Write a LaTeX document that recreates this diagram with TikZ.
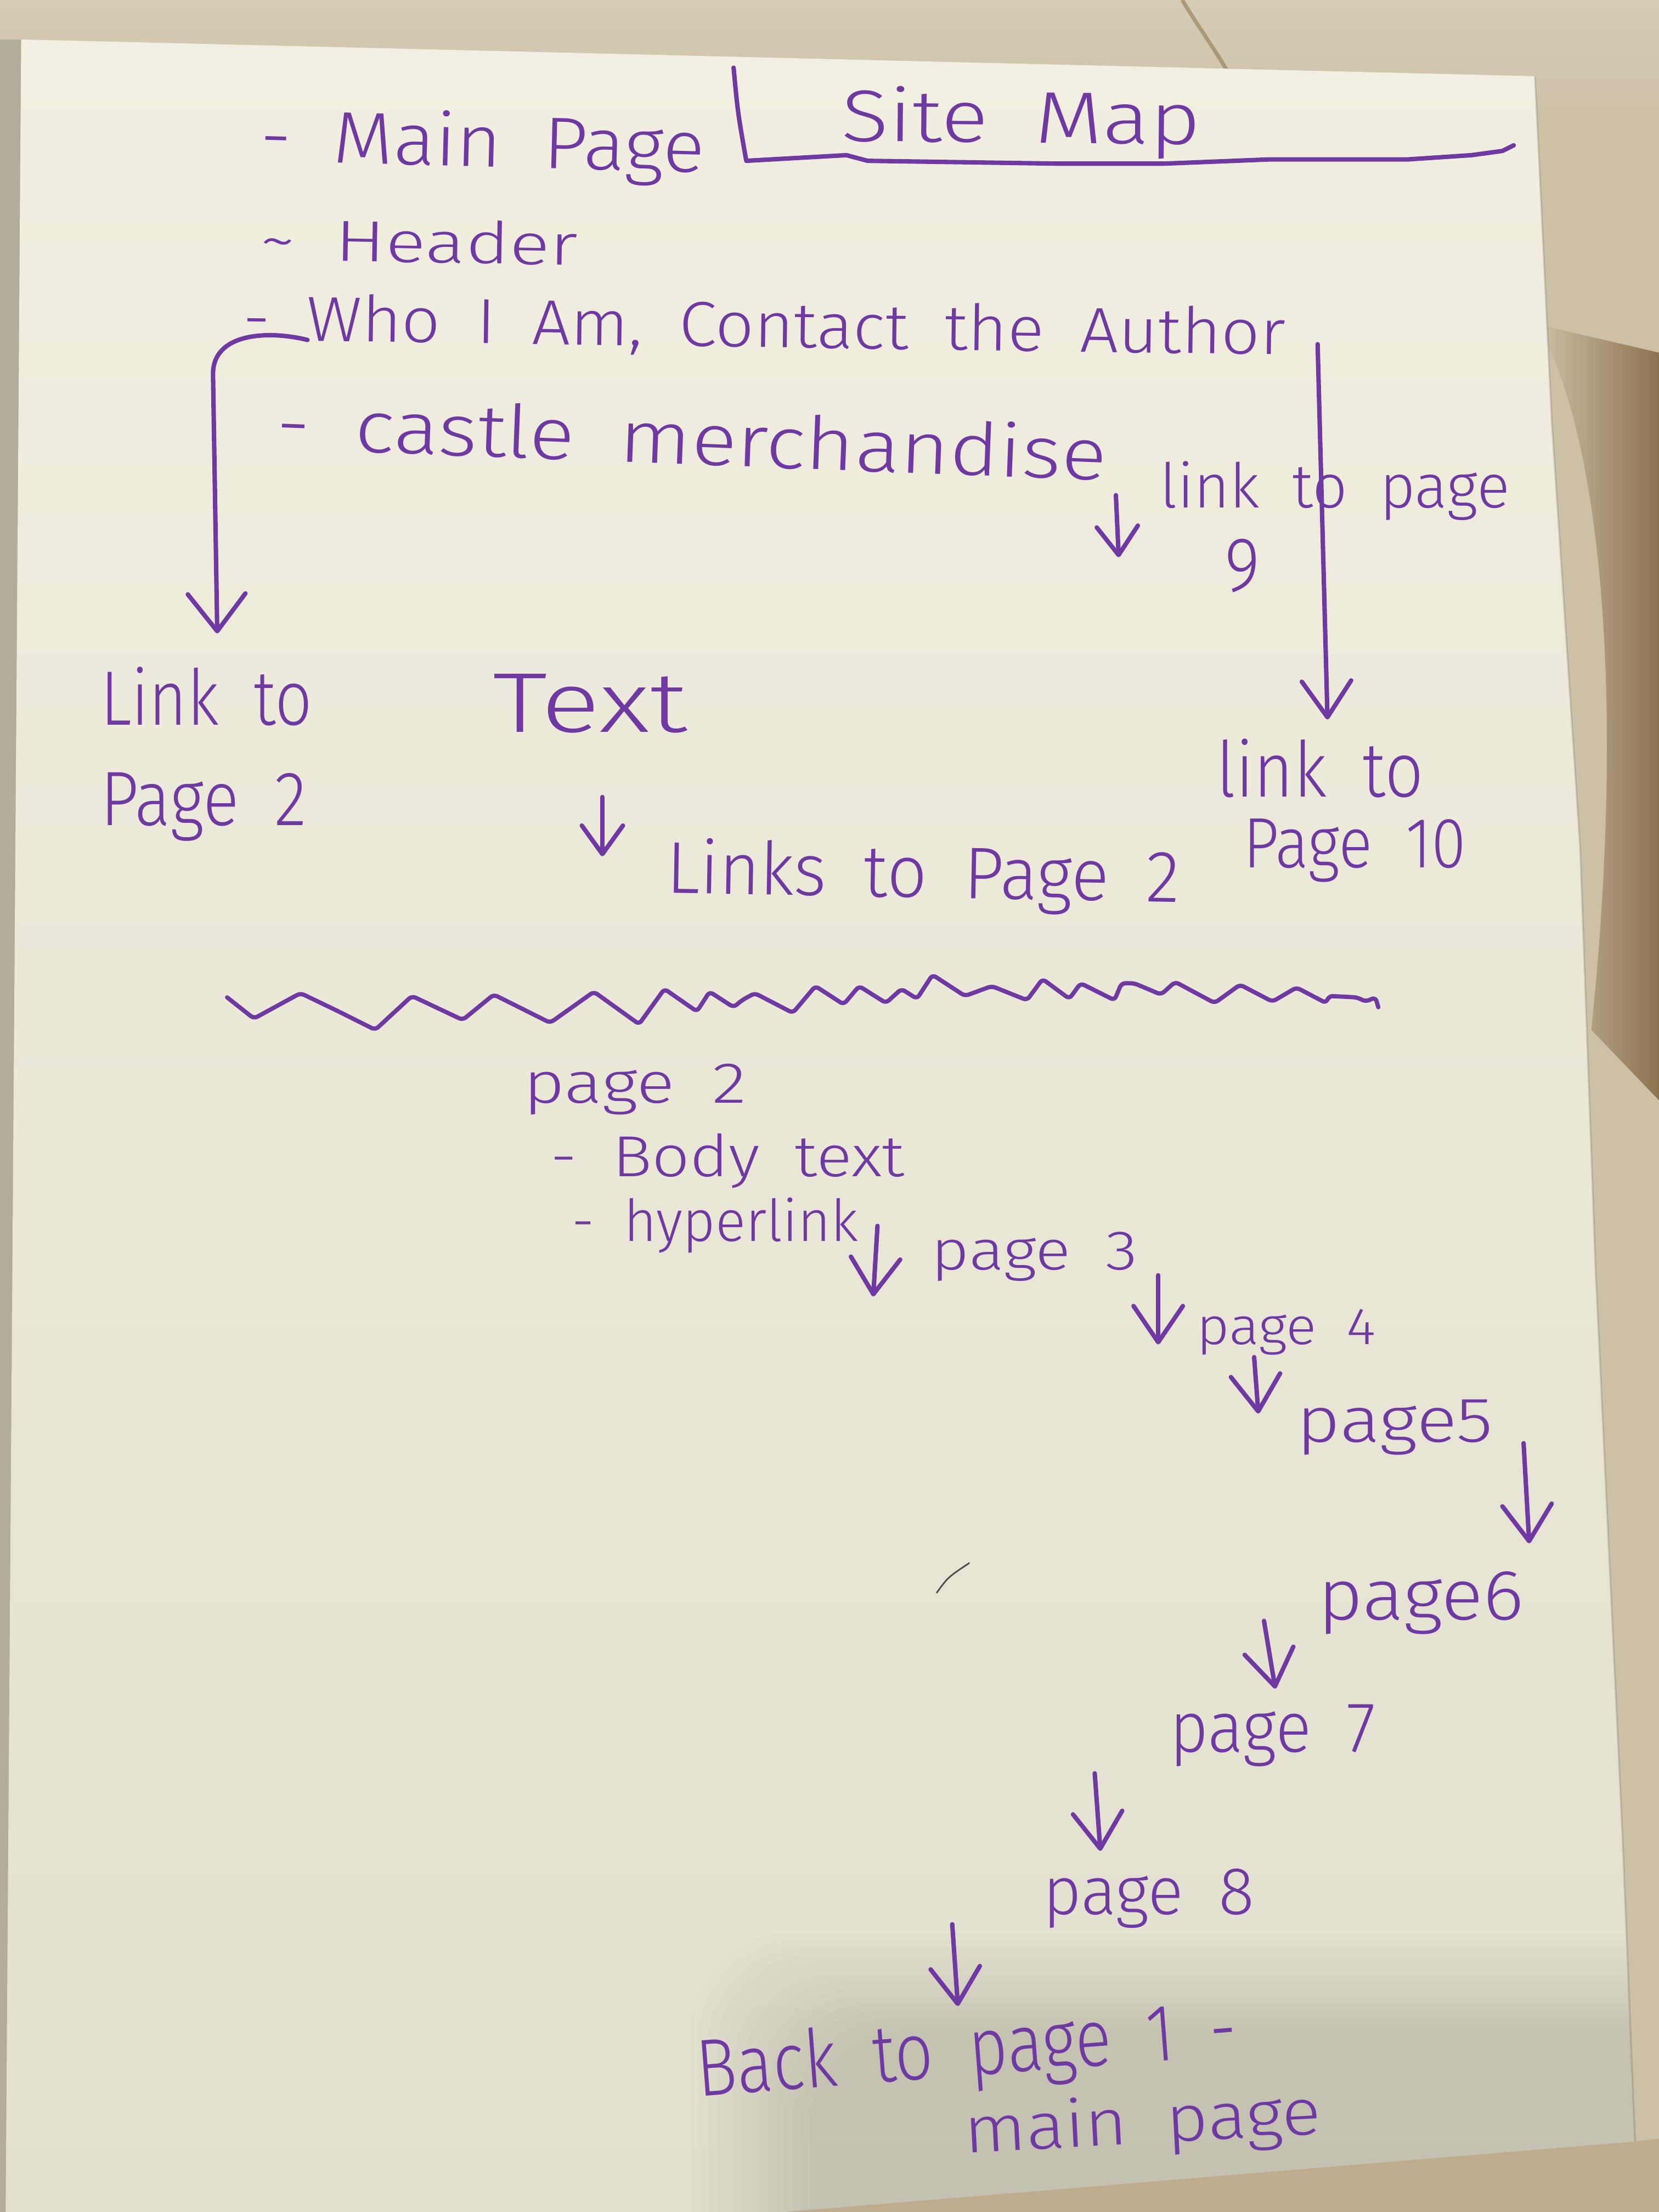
\documentclass[tikz,border=0pt]{standalone}
\usepackage{fontspec}
\setmainfont{Fira Sans Light}[WordSpace=1.9]
\usepackage{graphicx}
\usetikzlibrary{arrows.meta}

% one unit of the drawing grid as a TeX length
\newlength{\ux}\setlength{\ux}{0.025714cm}
% squeeze or stretch a line of writing to a given width, keeping its height
\newcommand{\fitw}[2]{\resizebox{#1}{\height}{#2}}
\newcommand{\fsz}[1]{\fontsize{#1}{#1}\selectfont}

\definecolor{ink}{RGB}{110,58,162}
\definecolor{fabric}{RGB}{204,192,166}
\definecolor{fabricL}{RGB}{214,204,182}
\definecolor{fabricD}{RGB}{140,115,80}
\definecolor{fabricB}{RGB}{190,172,140}
\definecolor{edgestrip}{RGB}{178,172,156}
\definecolor{paperT}{RGB}{242,239,226}
\definecolor{paperB}{RGB}{226,223,208}

\tikzset{
  hand/.style={text=ink, inner sep=0pt, anchor=base west},
  pen/.style={draw=ink, line width=2.3pt, line cap=round, line join=round},
  arr/.style={pen, -{Straight Barb[length=0.66cm, width=0.9cm, round]}},
  smallarr/.style={pen, -{Straight Barb[length=0.52cm, width=0.75cm, round]}},
}

% outline of the sheet of paper
\def\sheet{(15,28) -- (1088,54) -- (1100,300) -- (1120,600) -- (1131,900) -- (1150,1300) -- (1159,1518) -- (555,1568) -- (4,1568) -- cycle}

\begin{document}
\begin{tikzpicture}[x=0.025714cm, y=-0.025714cm]
\useasboundingbox (0,0) rectangle (1176,1568);

% ---- cloth behind the sheet ----
\fill[fabric] (0,0) rectangle (1176,1568);
\shade[top color=fabricL, bottom color=fabric] (0,0) rectangle (1176,90);
\shade[left color=fabric, right color=fabricD]
  (1090,230) .. controls (1140,320) and (1150,520) .. (1128,730) -- (1176,780) -- (1176,250) -- cycle;
\draw[fabricD, line width=2pt, opacity=0.55] (838,0) .. controls (850,20) and (862,36) .. (872,54);
\fill[edgestrip] (0,28) rectangle (18,1568);
\fill[fabricB] (555,1568) -- (1159,1518) -- (1176,1516) -- (1176,1568) -- cycle;

% ---- the sheet ----
\shade[top color=paperT, bottom color=paperB] \sheet;
\begin{scope}
  \clip \sheet;
  \foreach \i in {0,...,14}
    \fill[black!80!green, opacity=0.009, rounded corners=50pt] ({490+\i*6},{1370+\i*5}) rectangle (1260,1680);
\end{scope}
\draw[black, opacity=0.12, line width=1pt] (1088,54) -- (1100,300) -- (1120,600) -- (1131,900) -- (1150,1300) -- (1159,1518);

% ---- header block ----
\node[hand, font=\fsz{38}, rotate=-1.5] (mainpage) at (184,114) {\fitw{315\ux}{- Main Page}};
\node[hand, font=\fsz{38}, rotate=-0.5] (sitemap) at (596,100) {\fitw{255\ux}{Site Map}};
\coordinate (brtop) at (520,48);
\coordinate (brend) at (1073,103);
\draw[pen] (brtop) .. controls (523,80) .. (529,114)
  -- (600,110) -- (615,114) -- (750,116) -- (825,116) -- (900,113) -- (998,113) -- (1043,110) -- (1065,107) -- (brend);

\node[hand, font=\fsz{30}, rotate=-1] (header) at (184,184) {\fitw{225\ux}{\textasciitilde\ Header}};
\node[hand, font=\fsz{33}, rotate=-0.8] (who) at (172,241) {\fitw{739\ux}{- Who I Am, Contact the Author}};
\node[hand, font=\fsz{38}, rotate=-2.2] (castle) at (195,318) {\fitw{589\ux}{- castle merchandise}};

% ---- links from the main page ----
\node[hand, font=\fsz{32}] (link9) at (822,360) {\fitw{248\ux}{link to page}};
\node[hand, font=\fsz{40}] (nine) at (868,419) {\fitw{25\ux}{9}};
\node[hand, font=\fsz{40}] (linkA) at (71,514) {\fitw{150\ux}{Link to}};
\node[hand, font=\fsz{40}] (linkB) at (71,585) {\fitw{146\ux}{Page 2}};
\node[hand, font=\fsz{44}] (text) at (349,519) {\fitw{138\ux}{Text}};
\node[hand, font=\fsz{40}] (link10a) at (862,565) {\fitw{147\ux}{link to}};
\node[hand, font=\fsz{37}] (link10b) at (881,615) {\fitw{158\ux}{Page 10}};
\node[hand, font=\fsz{38}, rotate=-1] (links2) at (472,633) {\fitw{364\ux}{Links to Page 2}};

\coordinate (whoL) at (218,241);
\coordinate (toLink2) at (154,449);
\draw[arr, -{Straight Barb[length=0.68cm, width=1.05cm, round]}]
  (whoL) .. controls (190,234) and (151,236) .. (151,265) -- (toLink2);
\coordinate (authorR) at (934,244);
\coordinate (toLink10) at (941,510);
\draw[arr] (authorR) -- (toLink10);
\coordinate (m9s) at (791,351);
\coordinate (m9e) at (793,395);
\draw[smallarr] (m9s) -- (m9e);
\coordinate (ts) at (427,565);
\coordinate (te) at (427,607);
\draw[smallarr] (ts) -- (te);

% ---- divider ----
\draw[pen, line width=2.2pt, rounded corners=2pt]
  (161,707) -- (180,722) -- (213,704) -- (238,716) -- (266,730) -- (292,706) -- (328,723) -- (350,705)
  -- (390,725) -- (421,703) -- (453,726) -- (471,701) -- (494,717) -- (503,703) -- (520,714) -- (526,709)
  -- (535,704) -- (562,718) -- (578,699) -- (598,712) -- (609,699) -- (628,711) -- (639,701) -- (650,708)
  -- (661,691) -- (684,706) -- (703,699) -- (728,709) -- (739,694) -- (758,708) -- (766,697) -- (790,709)
  -- (795,697) -- (804,697) -- (823,705) -- (833,696) -- (861,711) -- (879,698) -- (902,710) -- (919,700)
  -- (940,711) -- (942,706) -- (962,707) -- (968,710) -- (975,707) -- (977,714);

% ---- page 2 and the chain of pages ----
\node[hand, font=\fsz{30}] (p2) at (371,782) {\fitw{158\ux}{page 2}};
\node[hand, font=\fsz{30}] (body) at (390,834) {\fitw{251\ux}{- Body text}};
\node[hand, font=\fsz{30}] (hyper) at (405,880) {\fitw{203\ux}{- hyperlink}};
\node[hand, font=\fsz{29}] (p3) at (660,900) {\fitw{146\ux}{page 3}};
\node[hand, font=\fsz{27}] (p4) at (848,953) {\fitw{127\ux}{page 4}};
\node[hand, font=\fsz{33}] (p5) at (919,1022) {\fitw{139\ux}{page5}};
\node[hand, font=\fsz{37}] (p6) at (934,1148) {\fitw{146\ux}{page6}};
\node[hand, font=\fsz{37}] (p7) at (829,1242) {\fitw{146\ux}{page 7}};
\node[hand, font=\fsz{35}] (p8) at (739,1357) {\fitw{150\ux}{page 8}};
\node[hand, font=\fsz{42}, rotate=4.4] (back) at (495,1486) {\fitw{384\ux}{Back to page 1 -}};
\node[hand, font=\fsz{34}, rotate=3] (mainp) at (684,1526) {\fitw{253\ux}{main page}};

\coordinate (a1s) at (622,869);  \coordinate (a1e) at (619,919);
\coordinate (a2s) at (821,904);  \coordinate (a2e) at (821,953);
\coordinate (a3s) at (889,962);  \coordinate (a3e) at (892,1002);
\coordinate (a4s) at (1080,1023); \coordinate (a4e) at (1084,1094);
\coordinate (a5s) at (896,1149); \coordinate (a5e) at (904,1197);
\coordinate (a6s) at (776,1257); \coordinate (a6e) at (780,1312);
\coordinate (a7s) at (675,1364); \coordinate (a7e) at (679,1422);
\foreach \a in {1,...,7} \draw[arr] (a\a s) -- (a\a e);

% stray pencil tick
\coordinate (tickA) at (664,1129);
\coordinate (tickB) at (687,1108);
\draw[black!70, line width=0.8pt, line cap=round] (tickA) .. controls (672,1118) .. (tickB);

\end{tikzpicture}
\end{document}
